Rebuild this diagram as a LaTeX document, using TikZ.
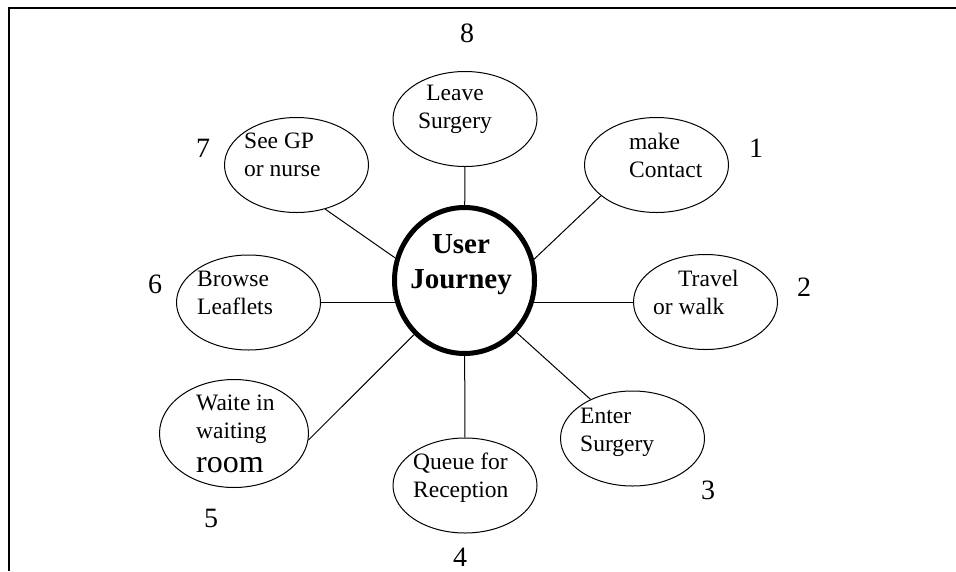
\documentclass[tikz,border=0pt]{standalone}
\usepackage{fontspec}
\setmainfont{Liberation Serif}
\usetikzlibrary{shapes.geometric}

\tikzset{
  etapa/.style={draw, ellipse, line width=1pt, minimum width=144pt, minimum height=95pt, inner sep=0pt},
  texto/.style={anchor=base west, align=left, inner sep=0pt, font=\fontsize{23.5}{28}\selectfont},
  numero/.style={anchor=base, inner sep=0pt, font=\fontsize{28}{30}\selectfont},
  enlace/.style={line width=1pt}
}

\begin{document}
\begin{tikzpicture}[x=1pt, y=-1pt]
  \useasboundingbox (0,0) rectangle (956,571);

  % Marco
  \draw[line width=1.5pt] (956,8) -- (9,8) -- (9,571);

  % Círculo central
  \node[draw, ellipse, line width=5pt, minimum width=140pt, minimum height=146pt] (hub) at (464.5,280.5) {};
  \node[align=center, anchor=base, inner sep=0pt, font=\bfseries\fontsize{29}{35}\selectfont] (titulo) at (461,288) {User\\Journey};

  % Etapas
  \node[etapa] (leave) at (465,119) {};
  \node[etapa] (contact) at (656.5,165) {};
  \node[etapa] (see) at (296.5,165) {};
  \node[etapa] (browse) at (248.5,302.5) {};
  \node[etapa] (travel) at (705.5,302) {};
  \node[etapa] (enter) at (632.5,438.5) {};
  \node[etapa] (queue) at (465,485.5) {};
  \node[etapa, minimum width=149pt, minimum height=108pt] (waite) at (234,433.5) {};

  % Textos (el punto es la línea base de la última línea)
  \node[texto, anchor=base, align=center] (leavetxt) at (455,128) {Leave\\Surgery};
  \node[texto] (contacttxt) at (629,177) {make\\Contact};
  \node[texto] (seetxt) at (244,176) {See GP\\or nurse};
  \node[texto] (browsetxt) at (197,314) {Browse\\Leaflets};
  \node[texto] (traveltxt) at (653,314) {\hspace*{25pt}Travel\\or walk};
  \node[texto] (entertxt) at (580,451) {Enter\\Surgery};
  \node[texto] (queuetxt) at (413,497) {Queue for\\Reception};
  \node[texto] (waitetxt) at (196,472) {Waite in\\waiting\\[6pt]{\fontsize{32}{34}\selectfont room}};

  % Conexiones
  \draw[enlace] (see.-57) -- (hub.162);
  \draw[enlace] (leave) -- (hub);
  \draw[enlace] (contact.-151) -- (hub.17);
  \draw[enlace] (browse.east) -- (hub.196 |- browse.east);
  \draw[enlace] (travel.west) -- (hub.-16 |- travel.west);
  \draw[enlace] (enter.137) -- (hub.-45);
  \draw[enlace] (hub) -- (queue);
  \draw[enlace] (waite.-5) -- (hub.227);

  % Números
  \node[numero] (n1) at (756,157) {1};
  \node[numero] (n2) at (804,296) {2};
  \node[numero] (n3) at (708,499) {3};
  \node[numero] (n4) at (460,566) {4};
  \node[numero] (n5) at (211,527) {5};
  \node[numero] (n6) at (155,293) {6};
  \node[numero] (n7) at (203,157) {7};
  \node[numero] (n8) at (467,42) {8};
\end{tikzpicture}
\end{document}
